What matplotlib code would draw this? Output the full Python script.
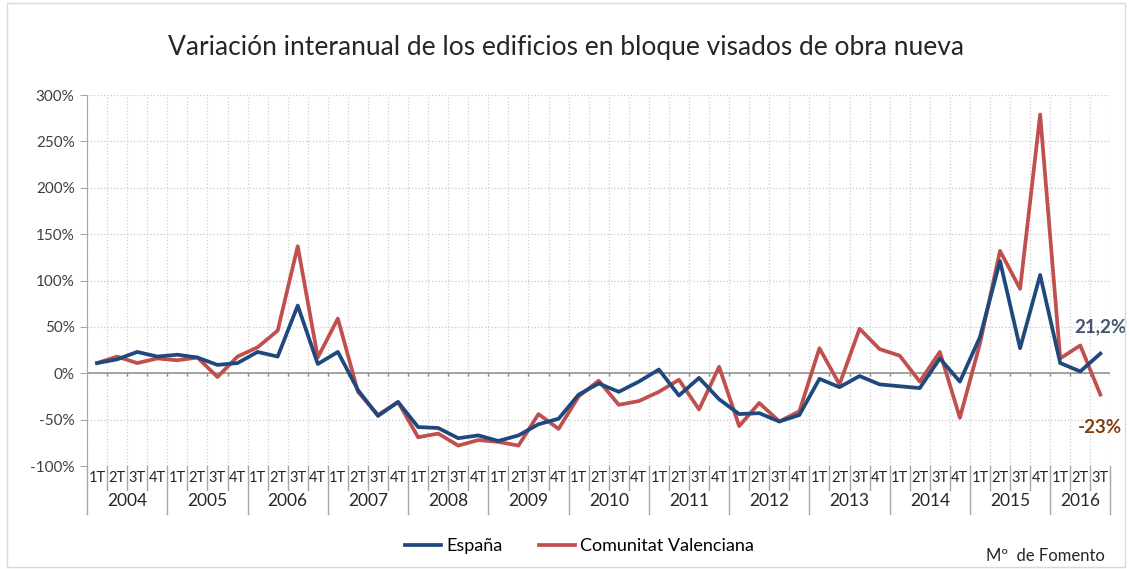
import matplotlib.pyplot as plt
import numpy as np
from matplotlib.patches import Rectangle

plt.rcParams['font.family'] = ['Lato', 'DejaVu Sans']

years = [str(y) for y in range(2004, 2017)]
quarters = ["1T", "2T", "3T", "4T"]

espana = [11, 15, 23, 18, 20, 17, 9, 11, 23, 18, 73, 10, 23, -18, -46, -31, -58,
          -59, -70, -67, -73, -67, -55, -49, -23, -11, -20, -9, 4, -24, -5, -28, -44,
          -43, -52, -45, -6, -15, -3, -12, -14, -16, 16, -9, 39, 121, 27, 106, 11,
          2, 21.2]
valencia = [11, 18, 11, 16, 14, 17, -4, 18, 28, 46, 137, 17, 59, -20, -45, -31, -69,
            -65, -78, -72, -74, -78, -44, -60, -25, -8, -34, -30, -20, -7, -39, 7, -57,
            -32, -52, -41, 27, -12, 48, 26, 19, -9, 23, -48, 32, 132, 91, 279, 16,
            30, -23]

n = len(espana)
labels = [(quarters[i % 4], years[i // 4]) for i in range(n)]
x = np.arange(n)

fig = plt.figure(figsize=(11.32, 5.69), dpi=100)
ax = fig.add_axes([0.0769, 0.181, 0.904, 0.652])

fig.patches.append(Rectangle((0.006, 0.004), 0.988, 0.99, transform=fig.transFigure,
                             fill=False, edgecolor="#d9d9d9", linewidth=1))

ax.plot(x, espana, color="#1f497d", linewidth=2.7, label="España", zorder=4)
ax.plot(x, valencia, color="#c0504d", linewidth=2.7, label="Comunitat Valenciana", zorder=3)

ax.set_xlim(-0.5, n - 0.5)
ax.set_ylim(-100, 300)
ax.set_yticks(np.arange(-100, 301, 50))
ax.set_yticklabels([f"{v}%" for v in range(-100, 301, 50)], fontsize=11, color="#404040")
ax.tick_params(axis="y", length=5, color="#a6a6a6", pad=4)
ax.set_xticks([])

for s in ["top", "right", "bottom"]:
    ax.spines[s].set_visible(False)
ax.spines["left"].set_color("#a6a6a6")

ax.grid(axis="y", linestyle=":", color="#c8c8c8", linewidth=0.9)
for b in np.arange(-0.5, n, 1):
    ax.axvline(b, color="#d0d0d0", linestyle=":", linewidth=0.9, zorder=0)
ax.axhline(0, color="#8c8c8c", linewidth=1.1, zorder=2)
ax.vlines(np.arange(0.5, n, 1), -3, 0, color="#8c8c8c", linewidth=1, zorder=2)

# category labels below the plot
trans = ax.get_xaxis_transform()
for i, (q, y) in enumerate(labels):
    ax.text(i, -0.033, q, transform=trans, ha="center", va="center", fontsize=10.5,
            color="#262626", family=['Liberation Sans Narrow', 'Lato'])
for b in np.arange(-0.5, n + 0.5, 1):
    year_edge = (b + 0.5) % 4 == 0 or b == n - 0.5
    ax.plot([b, b], [0, -0.13 if year_edge else -0.065], transform=trans,
            color="#a6a6a6", linewidth=1, clip_on=False)
for k, yr in enumerate(years):
    first = k * 4
    last = min(first + 3, n - 1)
    ax.text((first + last) / 2, -0.095, yr, transform=trans, ha="center", va="center",
            fontsize=12.5, color="#262626")

ax.text(n - 1, 50, "21,2%", ha="center", va="center", fontsize=13.5, fontweight="bold",
        color="#44546a")
ax.text(n - 1, -58, "-23%", ha="center", va="center", fontsize=13.5, fontweight="bold",
        color="#843c0c")

fig.text(0.5, 0.917, "Variación interanual de los edificios en bloque visados de obra nueva",
         ha="center", va="center", fontsize=19, color="#262626")

fig.legend(loc="center", bbox_to_anchor=(0.512, 0.04), ncol=2, frameon=False,
           fontsize=13, handlelength=2.0, handletextpad=0.3, columnspacing=2.0)
fig.text(0.976, 0.022, "Mº  de Fomento", ha="right", va="center", fontsize=12,
         color="#262626")

fig.savefig("out.png", dpi=100)
